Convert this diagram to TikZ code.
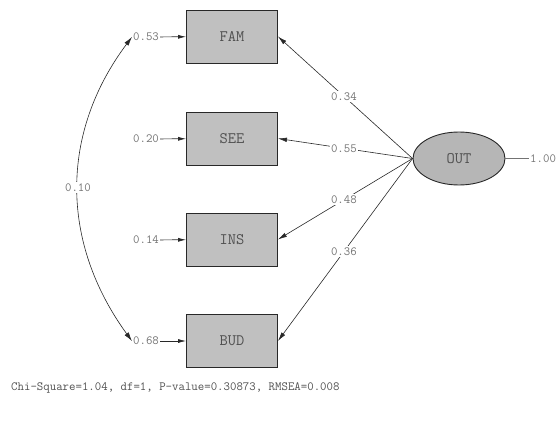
\documentclass[tikz,border=0pt]{standalone}
\usepackage{fontspec}
\usetikzlibrary{arrows.meta,shapes.geometric}
\definecolor{boxfill}{RGB}{192,192,192}
\definecolor{ellfill}{RGB}{182,182,182}
\definecolor{txtdark}{RGB}{80,80,80}
\definecolor{txtlight}{RGB}{115,115,115}
\definecolor{linedark}{RGB}{40,40,40}
\tikzset{
  obsbox/.style={draw=linedark, line width=0.9pt, fill=boxfill, minimum width=91pt, minimum height=53pt, inner sep=0pt, font=\ttfamily\fontsize{16}{18}\selectfont, text=txtdark},
  latbox/.style={ellipse, draw=linedark, line width=0.9pt, fill=ellfill, minimum width=92pt, minimum height=53pt, inner sep=0pt, font=\ttfamily\fontsize{16}{18}\selectfont, text=txtdark},
  numlab/.style={font=\ttfamily\fontsize{12.5}{14}\selectfont, text=txtlight, inner sep=1pt},
  pathlab/.style={numlab, fill=white, inner sep=1.5pt},
  arr/.style={draw=linedark, line width=0.6pt, -{Latex[length=9pt,width=4.5pt]}},
  sarr/.style={draw=linedark, line width=0.7pt, -{Latex[length=8pt,width=4pt]}},
  dblarr/.style={draw=linedark, line width=0.6pt, {Latex[length=9pt,width=5pt]}-{Latex[length=9pt,width=5pt]}}
}
\begin{document}
\begin{tikzpicture}[x=1pt,y=-1pt]
\useasboundingbox (0,0) rectangle (560,436);
\node[obsbox] (fam) at (232,36.5) {FAM};
\node[obsbox] (see) at (232,138.5) {SEE};
\node[obsbox] (ins) at (232,239.5) {INS};
\node[obsbox] (bud) at (232,341) {BUD};
\node[latbox] (out) at (459,158.5) {OUT};
\node[numlab] (e1) at (146,37) {0.53};
\node[numlab] (e2) at (146,139) {0.20};
\node[numlab] (e3) at (146,240) {0.14};
\node[numlab] (e4) at (146,341) {0.68};
\draw[sarr] (e1) -- (fam);
\draw[sarr] (e2) -- (see);
\draw[sarr] (e3) -- (ins);
\draw[sarr] (e4) -- (bud);
\node[numlab, anchor=west] (v) at (529,158.5) {1.00};
\draw[draw=txtlight, line width=0.5pt] (out.east) -- (v.west);
\draw[arr] (out.west) -- node[pathlab, pos=0.51] {0.34} (fam.east);
\draw[arr] (out.west) -- node[pathlab, pos=0.51] {0.55} (see.east);
\draw[arr] (out.west) -- node[pathlab, pos=0.51] {0.48} (ins.east);
\draw[arr] (out.west) -- node[pathlab, pos=0.51] {0.36} (bud.east);
\draw[dblarr] (e1.west) .. controls (60,133) and (60,242) .. node[pathlab, pos=0.5] {0.10} (e4.west);
\node[numlab, anchor=west, text=txtdark] (fit) at (10,388) {Chi-Square=1.04, df=1, P-value=0.30873, RMSEA=0.008};
\end{tikzpicture}
\end{document}
